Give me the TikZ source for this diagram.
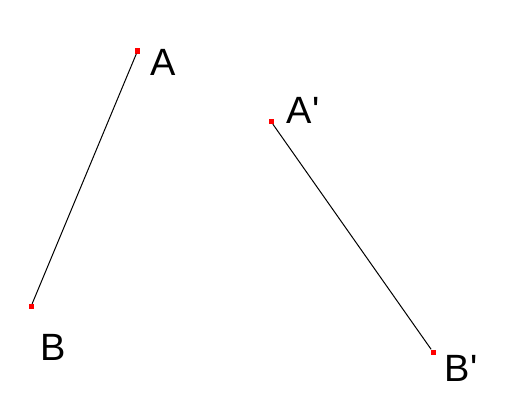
\documentclass[tikz,border=0pt]{standalone}
\usepackage{fontspec}
\setmainfont{Liberation Sans}
\usetikzlibrary{positioning}

\begin{document}
\begin{tikzpicture}[
    x=1pt, y=-1pt,
    pt/.style={rectangle, fill=red, inner sep=0pt, minimum size=5pt},
    lbl/.style={font=\fontsize{38}{40}\selectfont, inner sep=0pt},
    seg/.style={line width=1pt}
]
\useasboundingbox (0,0) rectangle (513,404);
\node[pt] (A) at (137.5,51) {};
\node[pt] (B) at (31,306.5) {};
\node[pt] (A2) at (271,121.5) {};
\node[pt] (B2) at (433,352) {};

\node[lbl] (lA) at (163,62.5) {A};
\node[lbl] (lB) at (53,347.5) {B};
\node[lbl] (lA2) at (303,110.5) {A\textquotesingle};
\node[lbl] (lB2) at (461,368.5) {B\textquotesingle};

\draw[seg] (A) -- (B);
\draw[seg] (A2) -- (B2);
\end{tikzpicture}
\end{document}
